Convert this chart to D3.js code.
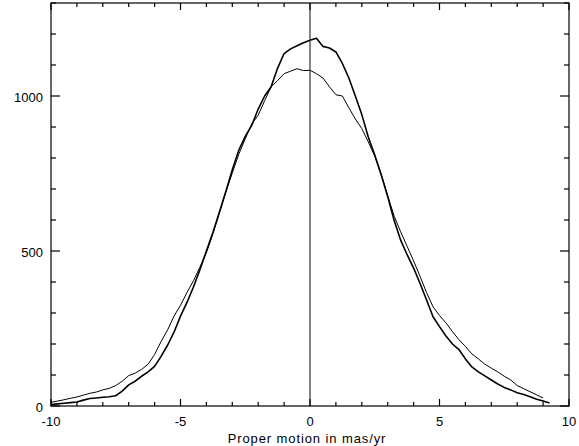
<!DOCTYPE html>
<html>
<head>
<meta charset="utf-8">
<script src="https://cdn.jsdelivr.net/npm/d3@7"></script>
<style>
  html, body { margin: 0; padding: 0; background: #fff; }
  svg { display: block; }
  text { font-family: "Liberation Sans", Arial, Helvetica, sans-serif; fill: #000; }
</style>
</head>
<body>
<svg id="chart" width="579" height="446"></svg>
<script>
"use strict";

// bin centres, mas/yr
const PM_BINS = [
  -10.00, -9.75, -9.50, -9.25, -9.00, -8.75, -8.50, -8.25, -8.00, -7.75,
  -7.50, -7.25, -7.00, -6.75, -6.50, -6.25, -6.00, -5.75, -5.50, -5.25,
  -5.00, -4.75, -4.50, -4.25, -4.00, -3.75, -3.50, -3.25, -3.00, -2.75,
  -2.50, -2.25, -2.00, -1.75, -1.50, -1.25, -1.00, -0.75, -0.50, -0.25,
  0.00, 0.25, 0.50, 0.75, 1.00, 1.25, 1.50, 1.75, 2.00, 2.25,
  2.50, 2.75, 3.00, 3.25, 3.50, 3.75, 4.00, 4.25, 4.50, 4.75,
  5.00, 5.25, 5.50, 5.75, 6.00, 6.25, 6.50, 6.75, 7.00, 7.25,
  7.50, 7.75, 8.00, 8.25, 8.50, 8.75, 9.00, 9.25
];

// broad distribution (thin line), ends near 9.0
const WIDE_COUNTS = [
  12, 16, 20, 25, 29, 35, 41, 45, 52, 57,
  66, 80, 98, 106, 118, 135, 166, 208, 245, 290,
  325, 366, 404, 448, 495, 555, 622, 690, 752, 812,
  862, 910, 938, 985, 1030, 1050, 1072, 1080, 1088, 1082,
  1083, 1072, 1058, 1030, 1004, 1000, 962, 926, 895, 852,
  806, 748, 678, 612, 562, 515, 468, 418, 366, 320,
  292, 268, 240, 214, 192, 168, 152, 135, 122, 110,
  96, 84, 66, 56, 46, 36, 26
];

// peaked distribution (heavy line)
const NARROW_COUNTS = [
  5, 7, 9, 11, 13, 19, 24, 26, 28, 30,
  33, 48, 68, 80, 96, 110, 128, 160, 196, 238,
  290, 334, 384, 440, 500, 560, 625, 692, 762, 825,
  870, 905, 958, 1000, 1030, 1090, 1137, 1152, 1162, 1172,
  1180, 1186, 1160, 1155, 1142, 1105, 1058, 1000, 940, 868,
  810, 745, 676, 598, 535, 488, 445, 395, 342, 288,
  256, 226, 200, 182, 152, 126, 110, 97, 84, 71,
  60, 52, 43, 37, 30, 22, 16, 10
];

const X_MAJOR = [-10, -5, 0, 5, 10];
const X_MINOR = d3.range(-10, 11, 1);
const Y_MAJOR = [0, 500, 1000];
const Y_MINOR = d3.range(0, 1301, 100);
const X_TITLE = "Proper motion in mas/yr";

const CHART = (function() {
  var _svg = d3.select("#chart");
  var _box = { left: 51, right: 569, top: 3, bottom: 406 };

  var _x = d3.scaleLinear().domain([-10, 10]).range([_box.left, _box.right]);
  var _y = d3.scaleLinear().domain([0, 1300]).range([_box.bottom, _box.top]);

  function series(counts) {
    return counts.map(function(c, i) { return [PM_BINS[i], c]; });
  }

  function drawCurves() {
    var line = d3.line()
      .x(function(d) { return _x(d[0]); })
      .y(function(d) { return _y(d[1]); });

    _svg.append("path")
      .datum(series(WIDE_COUNTS))
      .attr("fill", "none")
      .attr("stroke", "#000")
      .attr("stroke-width", 1)
      .attr("stroke-linejoin", "round")
      .attr("d", line);

    _svg.append("path")
      .datum(series(NARROW_COUNTS))
      .attr("fill", "none")
      .attr("stroke", "#000")
      .attr("stroke-width", 1.6)
      .attr("stroke-linejoin", "round")
      .attr("d", line);

    // zero marker
    _svg.append("line")
      .attr("x1", _x(0)).attr("x2", _x(0))
      .attr("y1", _box.top).attr("y2", _box.bottom)
      .attr("stroke", "#333")
      .attr("stroke-width", 1.2);
  }

  function drawFrame() {
    var g = _svg.append("g").attr("stroke", "#000").attr("stroke-width", 1.2);

    g.append("rect")
      .attr("x", _box.left).attr("y", _box.top)
      .attr("width", _box.right - _box.left)
      .attr("height", _box.bottom - _box.top)
      .attr("fill", "none");

    // x ticks, bottom and top, pointing inward
    X_MINOR.forEach(function(v) {
      var len = X_MAJOR.indexOf(v) >= 0 ? 7 : 4;
      g.append("line").attr("x1", _x(v)).attr("x2", _x(v))
        .attr("y1", _box.bottom).attr("y2", _box.bottom - len);
      g.append("line").attr("x1", _x(v)).attr("x2", _x(v))
        .attr("y1", _box.top).attr("y2", _box.top + len);
    });

    // y ticks, left and right
    Y_MINOR.forEach(function(v) {
      var len = Y_MAJOR.indexOf(v) >= 0 ? 9 : 5;
      g.append("line").attr("y1", _y(v)).attr("y2", _y(v))
        .attr("x1", _box.left).attr("x2", _box.left + len);
      g.append("line").attr("y1", _y(v)).attr("y2", _y(v))
        .attr("x1", _box.right).attr("x2", _box.right - len);
    });
  }

  function drawLabels() {
    _svg.append("g").selectAll("text")
      .data(X_MAJOR)
      .join("text")
      .attr("x", function(d) { return _x(d); })
      .attr("y", _box.bottom + 20)
      .attr("text-anchor", "middle")
      .attr("font-size", 13)
      .text(function(d) { return d; });

    _svg.append("g").selectAll("text")
      .data(Y_MAJOR)
      .join("text")
      .attr("x", _box.left - 8)
      .attr("y", function(d) { return _y(d) + 6; })
      .attr("text-anchor", "end")
      .attr("font-size", 13)
      .text(function(d) { return d; });

    _svg.append("text")
      .attr("x", 307)
      .attr("y", 443)
      .attr("text-anchor", "middle")
      .attr("font-size", 13)
      .attr("letter-spacing", 0.9)
      .text(X_TITLE);
  }

  return {
    render: function() {
      drawCurves();
      drawFrame();
      drawLabels();
    }
  };
}());

CHART.render();
</script>
</body>
</html>
